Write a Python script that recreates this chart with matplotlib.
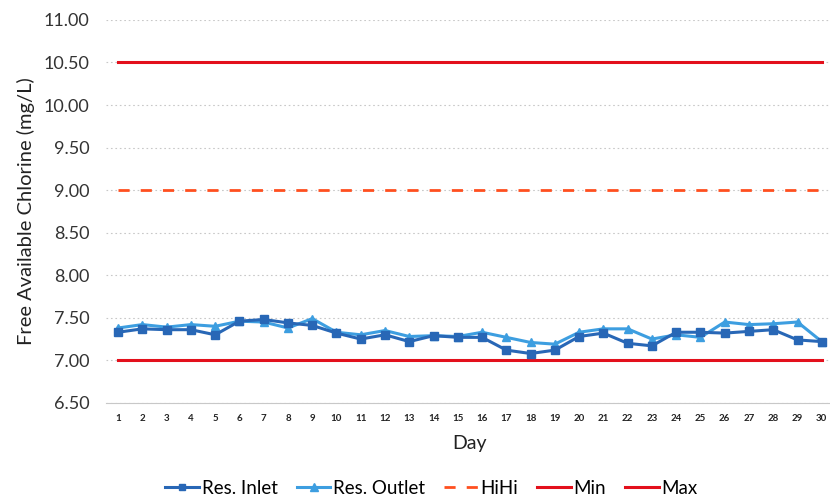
import numpy as np
import matplotlib
matplotlib.use("Agg")
import matplotlib.pyplot as plt

plt.rcParams["font.family"] = ["Lato", "DejaVu Sans"]

# daily readings, mg/L
days = list(range(1, 31))
resInlet = [7.33, 7.37, 7.36, 7.36, 7.30, 7.46, 7.48, 7.44, 7.41, 7.32,
            7.25, 7.30, 7.22, 7.29, 7.27, 7.27, 7.12, 7.08, 7.12, 7.28,
            7.32, 7.20, 7.17, 7.33, 7.33, 7.32, 7.34, 7.36, 7.24, 7.22]
resOutlet = [7.38, 7.42, 7.39, 7.42, 7.40, 7.46, 7.45, 7.38, 7.49, 7.33,
             7.30, 7.35, 7.28, 7.29, 7.28, 7.33, 7.27, 7.21, 7.19, 7.33,
             7.37, 7.37, 7.25, 7.30, 7.27, 7.45, 7.42, 7.43, 7.45, 7.22]
hiHi = 9.0
minLimit = 7.0
maxLimit = 10.5
yTicks = np.arange(6.5, 11.01, 0.5)

fig = plt.figure(figsize=(8.3, 4.98), dpi=100)
ax = fig.add_axes([0.1277, 0.191, 0.877, 0.769])

ax.plot(days, [hiHi] * len(days), color="#ff4f1f", linestyle=(0, (4, 4)), linewidth=2, label="HiHi")
ax.plot(days, [minLimit] * len(days), color="#e3101c", linewidth=2.2, label="Min")
ax.plot(days, [maxLimit] * len(days), color="#e3101c", linewidth=2.2, label="Max")
ax.plot(days, resOutlet, color="#3d9ee0", marker="^", markersize=6, linewidth=2.2, label="Res. Outlet")
ax.plot(days, resInlet, color="#2867b6", marker="s", markersize=5.5, linewidth=2.2, label="Res. Inlet")

ax.set_xlim(0.5, 30.5)
ax.set_ylim(6.5, 11.0)
ax.set_yticks(yTicks)
ax.set_yticklabels([f"{t:.2f}" for t in yTicks], fontsize=13, color="#333333")
ax.set_xticks(days)
ax.set_xticklabels([str(d) for d in days], fontsize=7, color="#222222", fontweight="bold")
ax.tick_params(length=0, pad=8)
ax.tick_params(axis="y", pad=12)

ax.grid(axis="y", color="#c8c8c8", linestyle=(0, (1.5, 2.5)), linewidth=0.8)
ax.set_axisbelow(True)
for side in ["top", "right", "left"]:
    ax.spines[side].set_visible(False)
ax.spines["bottom"].set_color("#c8c8c8")

ax.set_xlabel("Day", fontsize=14, color="#222222", labelpad=9)
ax.set_ylabel("Free Available Chlorine (mg/L)", fontsize=14.5, color="#222222", labelpad=6)

handles, labels = ax.get_legend_handles_labels()
order = ["Res. Inlet", "Res. Outlet", "HiHi", "Min", "Max"]
hmap = dict(zip(labels, handles))
fig.legend([hmap[k] for k in order], order, loc="center", bbox_to_anchor=(0.52, 0.02),
           ncol=5, frameon=False, fontsize=13.5, handlelength=1.8, columnspacing=1.0,
           handletextpad=0.15, markerscale=0.9)

fig.savefig("out.png", dpi=100)
